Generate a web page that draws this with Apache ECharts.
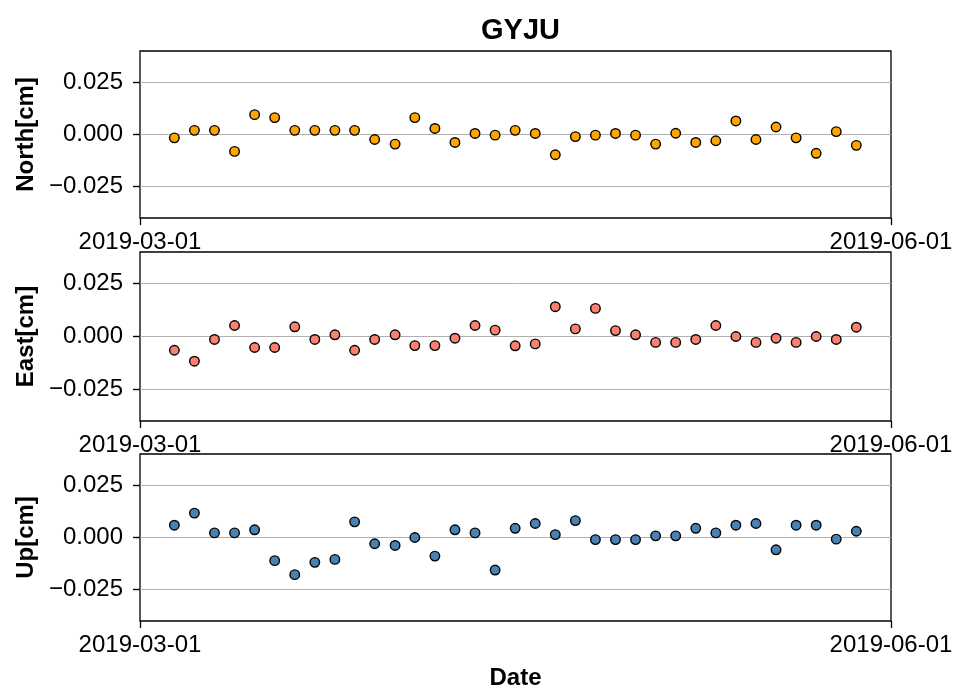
<!DOCTYPE html>
<html>
<head>
<meta charset="utf-8">
<title>GYJU</title>
<script src="https://cdn.jsdelivr.net/npm/echarts@6/dist/echarts.min.js"></script>
<style>
  html, body { margin: 0; padding: 0; background: #fff; }
  #chart { width: 957px; height: 691px; }
</style>
</head>
<body>
<div id="chart"></div>
<script>
// Observation epochs
const dates = [
  '2019-03-05 05:00', '2019-03-07 16:00', '2019-03-10 03:00', '2019-03-12 14:00',
  '2019-03-15 01:00', '2019-03-17 12:00', '2019-03-19 23:00', '2019-03-22 10:00',
  '2019-03-24 21:00', '2019-03-27 07:00', '2019-03-29 18:00', '2019-04-01 06:00',
  '2019-04-03 16:00', '2019-04-06 03:00', '2019-04-08 14:00', '2019-04-11 01:00',
  '2019-04-13 12:00', '2019-04-15 23:00', '2019-04-18 10:00', '2019-04-20 21:00',
  '2019-04-23 08:00', '2019-04-25 19:00', '2019-04-28 06:00', '2019-04-30 17:00',
  '2019-05-03 04:00', '2019-05-05 15:00', '2019-05-08 02:00', '2019-05-10 13:00',
  '2019-05-13 00:00', '2019-05-15 11:00', '2019-05-17 22:00', '2019-05-20 09:00',
  '2019-05-22 20:00', '2019-05-25 07:00', '2019-05-27 18:00'
];

// Displacement components [cm]
const north = [
  -0.0016, 0.0020, 0.0020, -0.0081, 0.0095, 0.0081, 0.0020, 0.0020, 0.0020, 0.0020,
  -0.0024, -0.0046, 0.0081, 0.0029, -0.0038, 0.0005, -0.0003, 0.0020, 0.0005, -0.0097,
  -0.0010, -0.0003, 0.0005, -0.0003, -0.0046, 0.0006, -0.0038, -0.0030, 0.0065, -0.0024,
  0.0036, -0.0016, -0.0090, 0.0014, -0.0052
];
const east = [
  -0.0065, -0.0117, -0.0014, 0.0052, -0.0052, -0.0052, 0.0046, -0.0014, 0.0008, -0.0065,
  -0.0014, 0.0008, -0.0043, -0.0043, -0.0008, 0.0052, 0.0030, -0.0044, -0.0035, 0.0141,
  0.0036, 0.0133, 0.0028, 0.0008, -0.0028, -0.0028, -0.0014, 0.0052, 0.0000, -0.0028,
  -0.0008, -0.0028, 0.0000, -0.0014, 0.0044
];
const up = [
  0.0059, 0.0117, 0.0022, 0.0022, 0.0037, -0.0111, -0.0178, -0.0119, -0.0105, 0.0075,
  -0.0030, -0.0038, 0.0000, -0.0089, 0.0037, 0.0022, -0.0156, 0.0044, 0.0067, 0.0014,
  0.0081, -0.0010, -0.0010, -0.0010, 0.0008, 0.0008, 0.0044, 0.0022, 0.0059, 0.0067,
  -0.0059, 0.0059, 0.0059, -0.0008, 0.0030
];

const yTicks = [-0.025, 0, 0.025];
const yNames = ['North[cm]', 'East[cm]', 'Up[cm]'];
const colors = ['#FFA500', '#FA8072', '#4682B4'];
const xStart = '2019-03-01 00:00';
const xEnd = '2019-06-01 00:00';

const FONT = "'Liberation Sans', Arial, Helvetica, sans-serif";

// local-time parse of 'YYYY-MM-DD HH:mm'
const toTime = s => {
  const [d, t] = s.split(' ');
  const [y, m, day] = d.split('-').map(Number);
  const [hh, mm] = t.split(':').map(Number);
  return new Date(y, m - 1, day, hh, mm).getTime();
};
const t0 = toTime(xStart);
const t1 = toTime(xEnd);
const xTicks = [t0, t1];

const components = [north, east, up];
const gridBoxes = [
  { top: 51, height: 167 },
  { top: 252, height: 169 },
  { top: 454, height: 168 }
];

const fmtY = v => {
  const s = Math.abs(v).toFixed(3);
  return v < 0 ? '\u2212' + s : s;
};
const pad2 = n => (n < 10 ? '0' : '') + n;
const fmtX = v => {
  const d = new Date(v);
  return d.getFullYear() + '-' + pad2(d.getMonth() + 1) + '-' + pad2(d.getDate());
};

const grids = gridBoxes.map(g => ({
  left: 140, width: 751, top: g.top, height: g.height,
  show: true, borderColor: '#000', borderWidth: 1.3, backgroundColor: 'transparent'
}));

const xAxes = gridBoxes.map((g, i) => ({
  type: 'value', gridIndex: i, min: t0, max: t1, position: 'bottom',
  name: i === 2 ? 'Date' : '',
  nameLocation: 'middle', nameGap: 45,
  nameTextStyle: { fontFamily: FONT, fontSize: 24, fontWeight: 'bold', color: '#000' },
  axisLine: { show: false, onZero: false },
  axisTick: { show: true, length: 7, customValues: xTicks, lineStyle: { color: '#000', width: 1.3 } },
  axisLabel: {
    customValues: xTicks, formatter: fmtX, margin: 12, hideOverlap: false,
    showMinLabel: true, showMaxLabel: true,
    fontFamily: FONT, fontSize: 24, color: '#000'
  },
  splitLine: { show: false }
}));

const yAxes = gridBoxes.map((g, i) => ({
  type: 'value', gridIndex: i, min: -0.04, max: 0.04, position: 'left',
  name: yNames[i], nameLocation: 'middle', nameGap: 97, nameRotate: 90,
  nameTextStyle: { fontFamily: FONT, fontSize: 24, fontWeight: 'bold', color: '#000' },
  axisLine: { show: false, onZero: false },
  axisTick: { show: true, length: 7, customValues: yTicks, lineStyle: { color: '#000', width: 1.4 } },
  axisLabel: {
    customValues: yTicks, formatter: fmtY, margin: 17,
    fontFamily: FONT, fontSize: 24, color: '#000'
  },
  splitLine: { show: true, lineStyle: { color: '#b0b0b0', width: 1 } }
}));

const series = components.map((vals, i) => ({
  type: 'scatter', xAxisIndex: i, yAxisIndex: i,
  symbol: 'circle', symbolSize: 9.5,
  itemStyle: { color: colors[i], borderColor: '#000', borderWidth: 1.4, opacity: 1 },
  data: dates.map((d, k) => [toTime(d), vals[k]]),
  z: 3
}));

const chart = echarts.init(document.getElementById('chart'), null, { renderer: 'canvas' });
chart.setOption({
  animation: false,
  backgroundColor: '#fff',
  title: {
    text: 'GYJU', left: 515.5, top: 11, textAlign: 'center',
    textStyle: { fontFamily: FONT, fontSize: 29, fontWeight: 'bold', color: '#000' }
  },
  grid: grids,
  xAxis: xAxes,
  yAxis: yAxes,
  series: series
});
</script>
</body>
</html>
